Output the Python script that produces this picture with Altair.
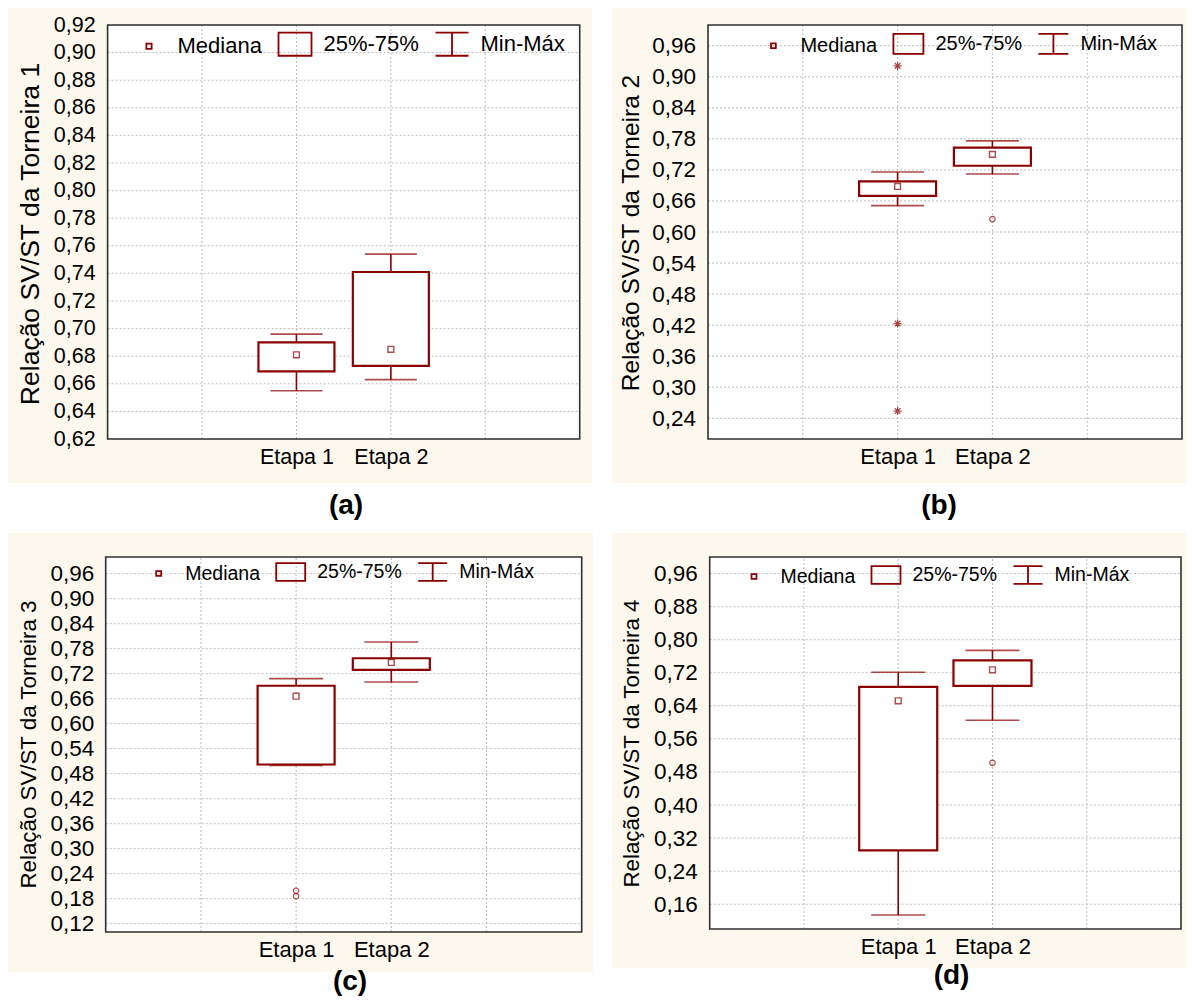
import altair as alt
import pandas as pd

FONT = "Liberation Sans"
RED = "#8B0000"
CREAM = "#FDF8EE"
FRAME = "#303030"
GRID = "#BDBDBD"

STAGES = ["Etapa 1", "Etapa 2"]
STAGE_POS = [2, 3]
X_DOMAIN = [0, 5]
X_GRID = [1, 2, 3, 4]
LEGEND_ITEMS = ["Mediana", "25%-75%", "Min-Máx"]

# ---------------- (a) Torneira 1
T1_LABEL = "Relação SV/ST da Torneira 1"
T1_MIN = [0.655, 0.663]
T1_Q1 = [0.669, 0.673]
T1_MED = [0.681, 0.685]
T1_Q3 = [0.690, 0.741]
T1_MAX = [0.696, 0.754]
T1_OUT_POS = []
T1_OUT = []
T1_EXT_POS = []
T1_EXT = []
T1_DOMAIN = [0.62, 0.92]
T1_TICKS = [0.62, 0.64, 0.66, 0.68, 0.70, 0.72, 0.74, 0.76, 0.78, 0.80,
            0.82, 0.84, 0.86, 0.88, 0.90, 0.92]

# ---------------- (b) Torneira 2
T2_LABEL = "Relação SV/ST da Torneira 2"
T2_MIN = [0.651, 0.712]
T2_Q1 = [0.670, 0.728]
T2_MED = [0.688, 0.750]
T2_Q3 = [0.698, 0.763]
T2_MAX = [0.716, 0.776]
T2_OUT_POS = [3]
T2_OUT = [0.625]
T2_EXT_POS = [2, 2, 2]
T2_EXT = [0.921, 0.423, 0.254]
T2_DOMAIN = [0.20, 1.00]
T2_TICKS = [0.24, 0.30, 0.36, 0.42, 0.48, 0.54, 0.60, 0.66, 0.72, 0.78,
            0.84, 0.90, 0.96]

# ---------------- (c) Torneira 3
T3_LABEL = "Relação SV/ST da Torneira 3"
T3_MIN = [0.500, 0.700]
T3_Q1 = [0.502, 0.729]
T3_MED = [0.666, 0.747]
T3_Q3 = [0.691, 0.757]
T3_MAX = [0.708, 0.796]
T3_OUT_POS = [2, 2]
T3_OUT = [0.199, 0.186]
T3_EXT_POS = []
T3_EXT = []
T3_DOMAIN = [0.10, 1.00]
T3_TICKS = [0.12, 0.18, 0.24, 0.30, 0.36, 0.42, 0.48, 0.54, 0.60, 0.66,
            0.72, 0.78, 0.84, 0.90, 0.96]

# ---------------- (d) Torneira 4
T4_LABEL = "Relação SV/ST da Torneira 4"
T4_MIN = [0.134, 0.605]
T4_Q1 = [0.290, 0.688]
T4_MED = [0.652, 0.727]
T4_Q3 = [0.686, 0.750]
T4_MAX = [0.721, 0.774]
T4_OUT_POS = [3]
T4_OUT = [0.502]
T4_EXT_POS = []
T4_EXT = []
T4_DOMAIN = [0.10, 1.00]
T4_TICKS = [0.16, 0.24, 0.32, 0.40, 0.48, 0.56, 0.64, 0.72, 0.80, 0.88, 0.96]

ASTERISK = "M-1,0H1M0,-1V1M-0.7,-0.7L0.7,0.7M-0.7,0.7L0.7,-0.7"

LAYOUT = {
    "a": dict(w=584, h=475, xr=[94.6, 576.7], yr=[431, 17], yfs=21.5, xfs=21.5,
              ypad=7.5, xpad=7.5, tfs=26.5, tx=-72, ty=225.5,
              lx=123.5, ly=18.5, lfs=22, lw=33, bh=0.70, mh=0.16,
              cap=52, box=76, tdx=46, toff=9),
    "b": dict(w=575, h=475, xr=[91, 575], yr=[431, 17], yfs=22.5, xfs=22,
              ypad=7.5, xpad=7.5, tfs=24.5, tx=-71.7, ty=224.5,
              lx=145.4, ly=19.7, lfs=20, lw=30, bh=0.67, mh=0.16,
              cap=53, box=77, tdx=39.5, toff=9),
    "c": dict(w=585, h=439, xr=[92.7, 578.7], yr=[399, 24], yfs=22.5, xfs=22,
              ypad=7, xpad=7, tfs=22.3, tx=-72, ty=211,
              lx=135.2, ly=23.5, lfs=19.5, lw=29, bh=0.61, mh=0.17,
              cap=54, box=77, tdx=49.5, toff=-4),
    "d": dict(w=575, h=435, xr=[92.7, 574], yr=[396, 24], yfs=22.5, xfs=22,
              ypad=7.5, xpad=7, tfs=22.3, tx=-73, ty=210,
              lx=126.5, ly=26.5, lfs=19.5, lw=29, bh=0.61, mh=0.17,
              cap=54, box=78, tdx=52, toff=-6),
}


def legend_paths(bh, mh):
    med = f"M-{mh},-{mh}H{mh}V{mh}H-{mh}Z"
    box = f"M-1,-{bh}H1V{bh}H-1Z"
    whisk = f"M-1,-{bh}H1M0,-{bh}V{bh}M-1,{bh}H1"
    return [med, box, whisk]


def build_panel(tag, ylabel, mins, q1s, meds, q3s, maxs, out_pos, out_val,
                ext_pos, ext_val, ydom, yticks, L):
    xs = alt.Scale(domain=X_DOMAIN, range=L["xr"], nice=False, zero=False)
    ys = alt.Scale(domain=ydom, range=L["yr"], nice=False, zero=False)

    label_expr = " : ".join(
        f"datum.value == {p} ? '{s}'" for p, s in zip(STAGE_POS, STAGES)) + " : ''"
    xaxis = alt.Axis(values=STAGE_POS, labelExpr=label_expr, orient="bottom",
                     offset=-(L["h"] - L["yr"][0]), domain=False, ticks=False,
                     grid=False, labelPadding=L["xpad"], labelFont=FONT,
                     labelFontSize=L["xfs"], labelColor="black",
                     labelOverlap=False, labelFlush=False, title=None)
    yaxis = alt.Axis(values=yticks,
                     labelExpr="replace(format(datum.value, '.2f'), '.', ',')",
                     orient="left", offset=-L["xr"][0], domain=False,
                     ticks=False, grid=False,
                     labelPadding=L["ypad"], labelFont=FONT,
                     labelFontSize=L["yfs"], labelColor="black",
                     labelOverlap=False, labelFlush=False,
                     title=ylabel, titleFont=FONT, titleFontSize=L["tfs"],
                     titleFontWeight="normal", titleColor="black",
                     titleAngle=270, titleAlign="center",
                     titleBaseline="middle",
                     titleX=L["tx"], titleY=L["ty"])

    def X(f):
        return alt.X(f, scale=xs, axis=xaxis)

    def Y(f):
        return alt.Y(f, scale=ys, axis=yaxis)

    frame_df = pd.DataFrame({"x0": [X_DOMAIN[0]], "x1": [X_DOMAIN[1]],
                             "y0": [ydom[0]], "y1": [ydom[1]]})
    box_df = pd.DataFrame({"pos": STAGE_POS, "stage": STAGES, "mn": mins,
                           "q1": q1s, "md": meds, "q3": q3s, "mx": maxs})

    bg = alt.Chart(frame_df).mark_rect(fill="white").encode(
        x=X("x0:Q"), x2="x1:Q", y=Y("y0:Q"), y2="y1:Q")

    hgrid = alt.Chart(pd.DataFrame({"v": yticks, "a": X_DOMAIN[0],
                                    "b": X_DOMAIN[1]})).mark_rule(
        color=GRID, strokeDash=[2, 2], strokeWidth=1).encode(
        y=Y("v:Q"), x=X("a:Q"), x2="b:Q")

    vgrid = alt.Chart(pd.DataFrame({"g": X_GRID, "a": ydom[0],
                                    "b": ydom[1]})).mark_rule(
        color=GRID, strokeDash=[2, 2], strokeWidth=1).encode(
        x=X("g:Q"), y=Y("a:Q"), y2="b:Q")

    base = alt.Chart(box_df)
    whisk = base.mark_rule(color=RED, strokeWidth=1.6).encode(
        x=X("pos:Q"), y=Y("mn:Q"), y2="mx:Q")
    cap_lo = base.mark_tick(color=RED, orient="horizontal", size=L["cap"],
                            thickness=1.6).encode(x=X("pos:Q"), y=Y("mn:Q"))
    cap_hi = base.mark_tick(color=RED, orient="horizontal", size=L["cap"],
                            thickness=1.6).encode(x=X("pos:Q"), y=Y("mx:Q"))
    box = base.mark_bar(fill="white", stroke=RED, strokeWidth=2.2,
                        size=L["box"], orient="vertical").encode(
        x=X("pos:Q"), y=Y("q1:Q"), y2="q3:Q")
    med = base.mark_square(filled=False, color=RED, size=34,
                           strokeWidth=1.4).encode(x=X("pos:Q"), y=Y("md:Q"))

    layers = [bg, hgrid, vgrid, whisk, cap_lo, cap_hi, box, med]

    if out_val:
        odf = pd.DataFrame({"pos": out_pos, "v": out_val})
        layers.append(alt.Chart(odf).mark_point(
            shape="circle", filled=False, color=RED, size=30,
            strokeWidth=1.2).encode(x=X("pos:Q"), y=Y("v:Q")))
    if ext_val:
        edf = pd.DataFrame({"pos": ext_pos, "v": ext_val})
        layers.append(alt.Chart(edf).mark_point(
            shape=ASTERISK, filled=False, color=RED, size=64,
            strokeWidth=1.3).encode(x=X("pos:Q"), y=Y("v:Q")))

    frame_line = alt.Chart(frame_df).mark_rect(
        filled=False, color=FRAME, strokeWidth=1.6).encode(
        x=X("x0:Q"), x2="x1:Q", y=Y("y0:Q"), y2="y1:Q")
    layers.append(frame_line)

    leg_df = pd.DataFrame({"item": LEGEND_ITEMS, "a": X_DOMAIN[0],
                           "b": ydom[0]})
    leg = alt.Chart(leg_df).mark_point(
        filled=False, color=RED, strokeWidth=1.8, opacity=0).encode(
        x=X("a:Q"), y=Y("b:Q"),
        shape=alt.Shape("item:N",
                        scale=alt.Scale(domain=LEGEND_ITEMS,
                                        range=legend_paths(L["bh"], L["mh"])),
                        legend=alt.Legend(
                            title=None, orient="none", legendX=L["lx"],
                            legendY=L["ly"], direction="horizontal",
                            columns=3, symbolSize=L["lw"] ** 2,
                            symbolStrokeWidth=1.8, symbolFillColor=CREAM,
                            symbolStrokeColor=RED, symbolOpacity=1,
                            labelFont=FONT, labelFontSize=L["lfs"],
                            labelColor="black", labelOffset=11,
                            columnPadding=12, padding=0, labelLimit=0)))
    layers.append(leg)

    return alt.layer(*layers).properties(
        width=L["w"], height=L["h"],
        view=alt.ViewBackground(fill=CREAM, strokeWidth=0),
        title=alt.TitleParams(text=f"({tag})", orient="bottom",
                              anchor="middle", frame="group", font=FONT,
                              fontSize=28, fontWeight="bold", color="black",
                              offset=L["toff"], dx=L["tdx"]))


pa = build_panel("a", T1_LABEL, T1_MIN, T1_Q1, T1_MED, T1_Q3, T1_MAX,
                 T1_OUT_POS, T1_OUT, T1_EXT_POS, T1_EXT, T1_DOMAIN, T1_TICKS,
                 LAYOUT["a"])
pb = build_panel("b", T2_LABEL, T2_MIN, T2_Q1, T2_MED, T2_Q3, T2_MAX,
                 T2_OUT_POS, T2_OUT, T2_EXT_POS, T2_EXT, T2_DOMAIN, T2_TICKS,
                 LAYOUT["b"])
pc = build_panel("c", T3_LABEL, T3_MIN, T3_Q1, T3_MED, T3_Q3, T3_MAX,
                 T3_OUT_POS, T3_OUT, T3_EXT_POS, T3_EXT, T3_DOMAIN, T3_TICKS,
                 LAYOUT["c"])
pd_ = build_panel("d", T4_LABEL, T4_MIN, T4_Q1, T4_MED, T4_Q3, T4_MAX,
                  T4_OUT_POS, T4_OUT, T4_EXT_POS, T4_EXT, T4_DOMAIN, T4_TICKS,
                  LAYOUT["d"])

chart = alt.concat(pa, pb, pc, pd_, columns=2, bounds="flush",
                   spacing=alt.RowColnumber(row=50, column=19)).resolve_scale(
    shape="independent").resolve_legend(shape="independent").properties(
    padding=0, background="white").configure_view(
    strokeWidth=0).configure_axis(labelOverlap=False, labelFlush=False)

chart.save("out.html", embed_options={"renderer": "svg", "actions": False})
